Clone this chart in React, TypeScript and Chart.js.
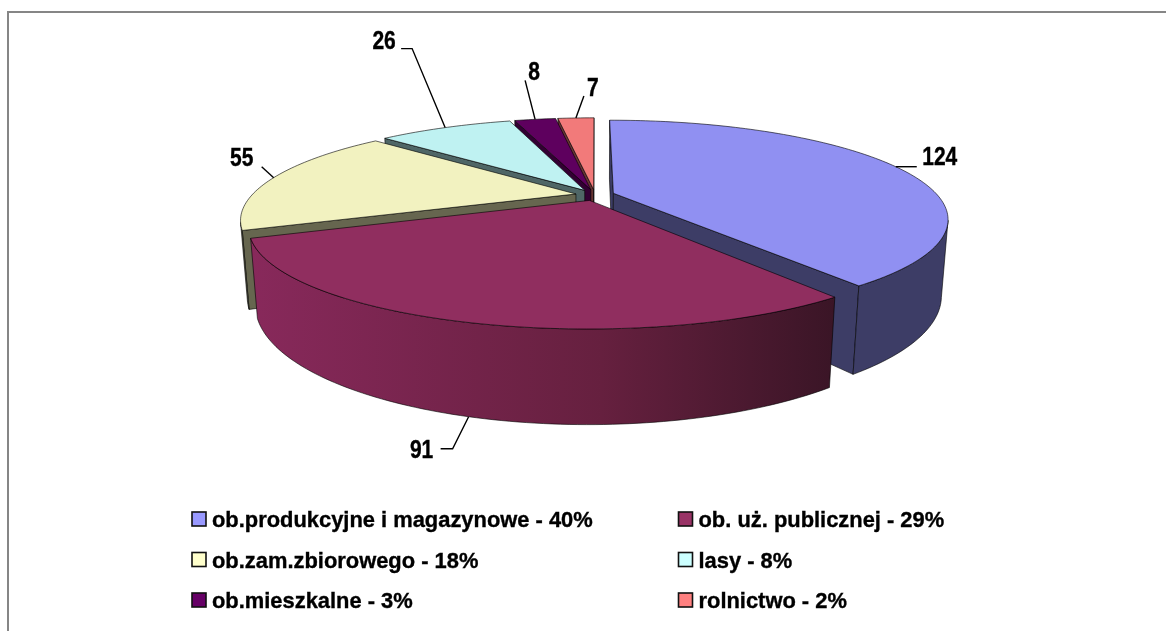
import React, { useEffect, useRef } from "react";
import { Chart, registerables } from "chart.js";

Chart.register(...registerables);

const categories = ["ob.produkcyjne i magazynowe", "ob. uż. publicznej", "ob.zam.zbiorowego", "lasy", "ob.mieszkalne", "rolnictwo"];
const values = [124, 91, 55, 26, 8, 7];
const percents = [40, 29, 18, 8, 3, 2];

const swatchColors = ["#9999FF", "#993366", "#FFFFCC", "#CCFFFF", "#660066", "#FF8080"];
const topColors = ["#9090F2", "#902E5F", "#F2F2C0", "#BFF2F2", "#5E005E", "#F27A7A"];
const wallColors = [
  ["#3D3D66", "#3D3D66", "#3D3D66"],
  ["#88295B", "#66203F", "#3A1526"],
  ["#66664F", "#66664F", "#66664F"],
  ["#4F6666", "#4F6666", "#4F6666"],
  ["#330033", "#330033", "#330033"],
  ["#663333", "#663333", "#663333"],
];
// label offset from the leader's anchor point, then the leader's bend points
const labelOffsets = [
  { tx: 44, ty: -11, path: [[21, 0]] },
  { tx: -47, ty: 32, path: [[-16, 32], [-28, 32]] },
  { tx: -32, ty: -21, path: [[-12, -11]] },
  { tx: -61, ty: -88, path: [[-33, -79], [-44, -79]] },
  { tx: -1, ty: -48, path: [[-10, -39]] },
  { tx: 17, ty: -31, path: [[8, -22]] },
];

const CX = 595, CY = 195, A = 324, B = 92.5, K = 0.255, D = 74, M = 0.018, EXPLODE = 0.06;
const FONT = '"Liberation Sans", Arial, sans-serif';

function project(X: number, Y: number, Z: number) {
  const w = 1 - K * Y + M * Z;
  return { x: CX + (A * X) / w, y: CY + (B * Y + D * Z) / w };
}

const pie3dPlugin = {
  id: "pie3d",
  beforeDraw(chart: any) {
    const { ctx, width, height } = chart;
    ctx.save();
    ctx.fillStyle = "#fff";
    ctx.fillRect(0, 0, width, height);
    ctx.strokeStyle = "#868686";
    ctx.lineWidth = 2;
    ctx.beginPath();
    ctx.moveTo(8, height);
    ctx.lineTo(8, 12);
    ctx.lineTo(width, 12);
    ctx.stroke();
    ctx.restore();
  },
  beforeDatasetDraw(chart: any) {
    const { ctx } = chart;
    const arcs = chart.getDatasetMeta(0).data;
    const slices = arcs.map((arc: any, i: number) => {
      const s = arc.startAngle + Math.PI / 2;
      const e = arc.endAngle + Math.PI / 2;
      const mid = (s + e) / 2;
      return { i, s, e, mid, ox: EXPLODE * Math.sin(mid), oy: -EXPLODE * Math.cos(mid) };
    });
    const rim = (sl: any, a: number, z: number) =>
      project(sl.ox + Math.sin(a), sl.oy - Math.cos(a), z);
    const apex = (sl: any, z: number) => project(sl.ox, sl.oy, z);
    const trace = (pts: { x: number; y: number }[]) => {
      ctx.beginPath();
      pts.forEach((p, n) => (n ? ctx.lineTo(p.x, p.y) : ctx.moveTo(p.x, p.y)));
      ctx.closePath();
    };
    // a wall is painted only when it turns towards the camera
    const camY = 1 / K;
    const facing = (nx: number, ny: number, px: number, py: number) =>
      nx * (0 - px) + ny * (camY - py) > 0;
    const order = [...slices].sort((a: any, b: any) => Math.cos(b.mid) - Math.cos(a.mid));
    ctx.save();
    ctx.lineJoin = "round";
    ctx.lineWidth = 0.8;
    ctx.strokeStyle = "rgba(0,0,0,0.75)";
    for (const sl of order) {
      const n = Math.max(4, Math.ceil((sl.e - sl.s) / 0.02));
      const angles = Array.from({ length: n + 1 }, (_, j) => sl.s + ((sl.e - sl.s) * j) / n);
      const topRim = angles.map((a) => rim(sl, a, 0));
      const wall = wallColors[sl.i];
      ctx.fillStyle = wall[0];
      const sideS = facing(-Math.cos(sl.s), -Math.sin(sl.s), sl.ox, sl.oy);
      const sideE = facing(Math.cos(sl.e), Math.sin(sl.e), sl.ox, sl.oy);
      if (sideS) {
        trace([apex(sl, 0), rim(sl, sl.s, 0), rim(sl, sl.s, 1), apex(sl, 1)]);
        ctx.fill();
        ctx.stroke();
      }
      if (sideE) {
        trace([apex(sl, 0), rim(sl, sl.e, 0), rim(sl, sl.e, 1), apex(sl, 1)]);
        ctx.fill();
        ctx.stroke();
      }
      const seen = angles.filter((a) =>
        facing(Math.sin(a), -Math.cos(a), sl.ox + Math.sin(a), sl.oy - Math.cos(a))
      );
      if (seen.length > 1) {
        const up = seen.map((a) => rim(sl, a, 0));
        const down = seen.map((a) => rim(sl, a, 1));
        const xs = [...up, ...down].map((p) => p.x);
        const grad = ctx.createLinearGradient(Math.min(...xs), 0, Math.max(...xs), 0);
        grad.addColorStop(0, wall[0]);
        grad.addColorStop(0.6, wall[1]);
        grad.addColorStop(1, wall[2]);
        ctx.fillStyle = grad;
        trace([...up, ...down.reverse()]);
        ctx.fill();
        ctx.stroke();
      }
      ctx.fillStyle = topColors[sl.i];
      trace([apex(sl, 0), ...topRim]);
      ctx.fill();
      ctx.stroke();
    }
    ctx.restore();
    return false;
  },
  afterDatasetsDraw(chart: any) {
    const { ctx } = chart;
    const arcs = chart.getDatasetMeta(0).data;
    const vals = chart.data.datasets[0].data;
    ctx.save();
    ctx.textBaseline = "alphabetic";
    arcs.forEach((arc: any, i: number) => {
      const mid = (arc.startAngle + arc.endAngle) / 2 + Math.PI / 2;
      const X = (1 + EXPLODE) * Math.sin(mid);
      const Y = -(1 + EXPLODE) * Math.cos(mid);
      // front slices hang the leader from the bottom edge of the wall
      const p = project(X, Y, Y > 0.5 ? 1 : 0);
      const o = labelOffsets[i];
      ctx.strokeStyle = "#000";
      ctx.lineWidth = 1.4;
      ctx.beginPath();
      ctx.moveTo(p.x, p.y);
      o.path.forEach(([dx, dy]) => ctx.lineTo(p.x + dx, p.y + dy));
      ctx.stroke();
      ctx.save();
      ctx.translate(p.x + o.tx, p.y + o.ty);
      ctx.scale(0.84, 1);
      ctx.font = `bold 25px ${FONT}`;
      ctx.textAlign = "center";
      ctx.fillStyle = "#000";
      ctx.strokeStyle = "#000";
      ctx.lineWidth = 0.4;
      ctx.fillText(String(vals[i]), 0, 9);
      ctx.strokeText(String(vals[i]), 0, 9);
      ctx.restore();
    });
    // legend: two columns, three rows
    const labels = chart.data.labels;
    labels.forEach((label: string, i: number) => {
      const col = i % 2;
      const row = Math.floor(i / 2);
      const x = col ? 678.5 : 192;
      const y = 512 + row * 40.5;
      ctx.fillStyle = swatchColors[i];
      ctx.strokeStyle = "#111";
      ctx.lineWidth = 1.6;
      ctx.fillRect(x, y, 14, 14);
      ctx.strokeRect(x, y, 14, 14);
      ctx.fillStyle = "#000";
      ctx.strokeStyle = "#000";
      ctx.lineWidth = 0.35;
      ctx.textAlign = "left";
      ctx.font = `bold 21.9px ${FONT}`;
      ctx.fillText(`${label} - ${percents[i]}%`, x + 20, y + 15);
      ctx.strokeText(`${label} - ${percents[i]}%`, x + 20, y + 15);
    });
    ctx.restore();
  },
};

export default function App() {
  const ref = useRef<HTMLCanvasElement>(null);
  useEffect(() => {
    document.body.style.margin = "0";
    const chart = new Chart(ref.current as HTMLCanvasElement, {
      type: "pie",
      data: {
        labels: categories,
        datasets: [{ data: values, backgroundColor: swatchColors, borderWidth: 0 }],
      },
      options: {
        responsive: false,
        animation: false,
        plugins: { legend: { display: false }, tooltip: { enabled: false } },
      },
      plugins: [pie3dPlugin],
    } as any);
    return () => chart.destroy();
  }, []);
  return <canvas ref={ref} width={1166} height={631} style={{ display: "block" }} />;
}
